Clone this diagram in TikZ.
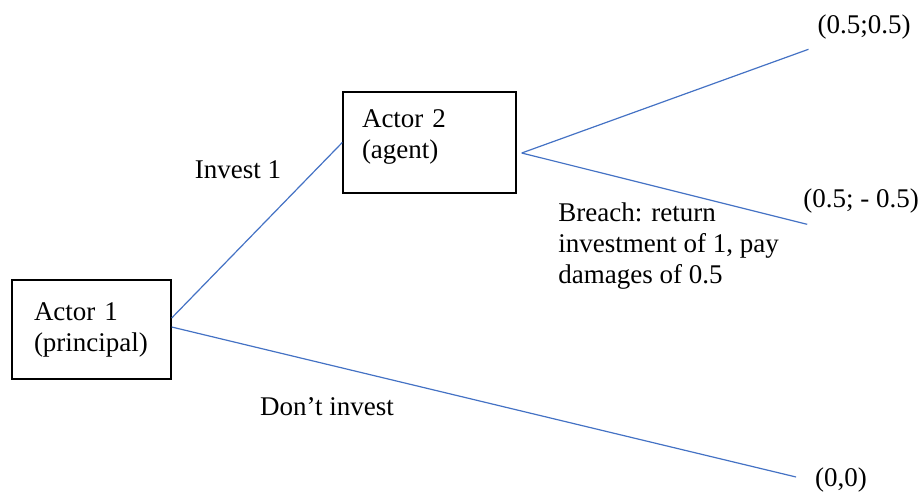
\documentclass[tikz,border=0pt]{standalone}
\usepackage{fontspec}
\setmainfont{Liberation Serif}
\usetikzlibrary{positioning,calc}
\definecolor{branchblue}{RGB}{68,114,196}

\begin{document}
\begin{tikzpicture}[x=0.5pt, y=-0.5pt, every node/.style={font=\fontsize{13.5}{15.5}\selectfont},
    actor/.style={draw=black, line width=0.7pt, rectangle, align=left},
    branch/.style={draw=branchblue, line width=0.6pt}]
    % Game tree
    \useasboundingbox (0,0) rectangle (919,492);

    % Players
    \node[actor, minimum width=79.5pt, minimum height=49.5pt, inner xsep=11pt, text width=57.5pt] (a1) at (91.5,329.5) {Actor 1\\(principal)};
    \node[actor, minimum width=86.5pt, minimum height=50.5pt, inner xsep=9.5pt, text width=67.5pt, text depth=24pt] (a2) at (429.5,142.5) {Actor 2\\(agent)};
    \coordinate (fork) at ($(a2.east)+(5,10.5)$);

    % Payoffs
    \node (p1) at (864,27) {(0.5;0.5)};
    \node (p2) at (861,201) {(0.5; - 0.5)};
    \node (p3) at (841,480) {(0,0)};

    % Branches
    \draw[branch] ($(a1.east)+(0,-11.5)$) -- (a2.west);
    \draw[branch] ($(a1.east)+(0,-2.5)$) -- ($(p3.west)+(-12,-3)$);
    \draw[branch] (fork) -- ($(p1.south west)+(-2,3)$);
    \draw[branch] (fork) -- ($(p2.south west)+(11,4)$);

    % Moves
    \node (invest) at (238,170) {Invest 1};
    \node (noinvest) at (327,407) {Don't invest};
    \node[align=left, anchor=north west, inner sep=0] (breach) at (558,202) {Breach: return\\investment of 1, pay\\damages of 0.5};
\end{tikzpicture}
\end{document}
